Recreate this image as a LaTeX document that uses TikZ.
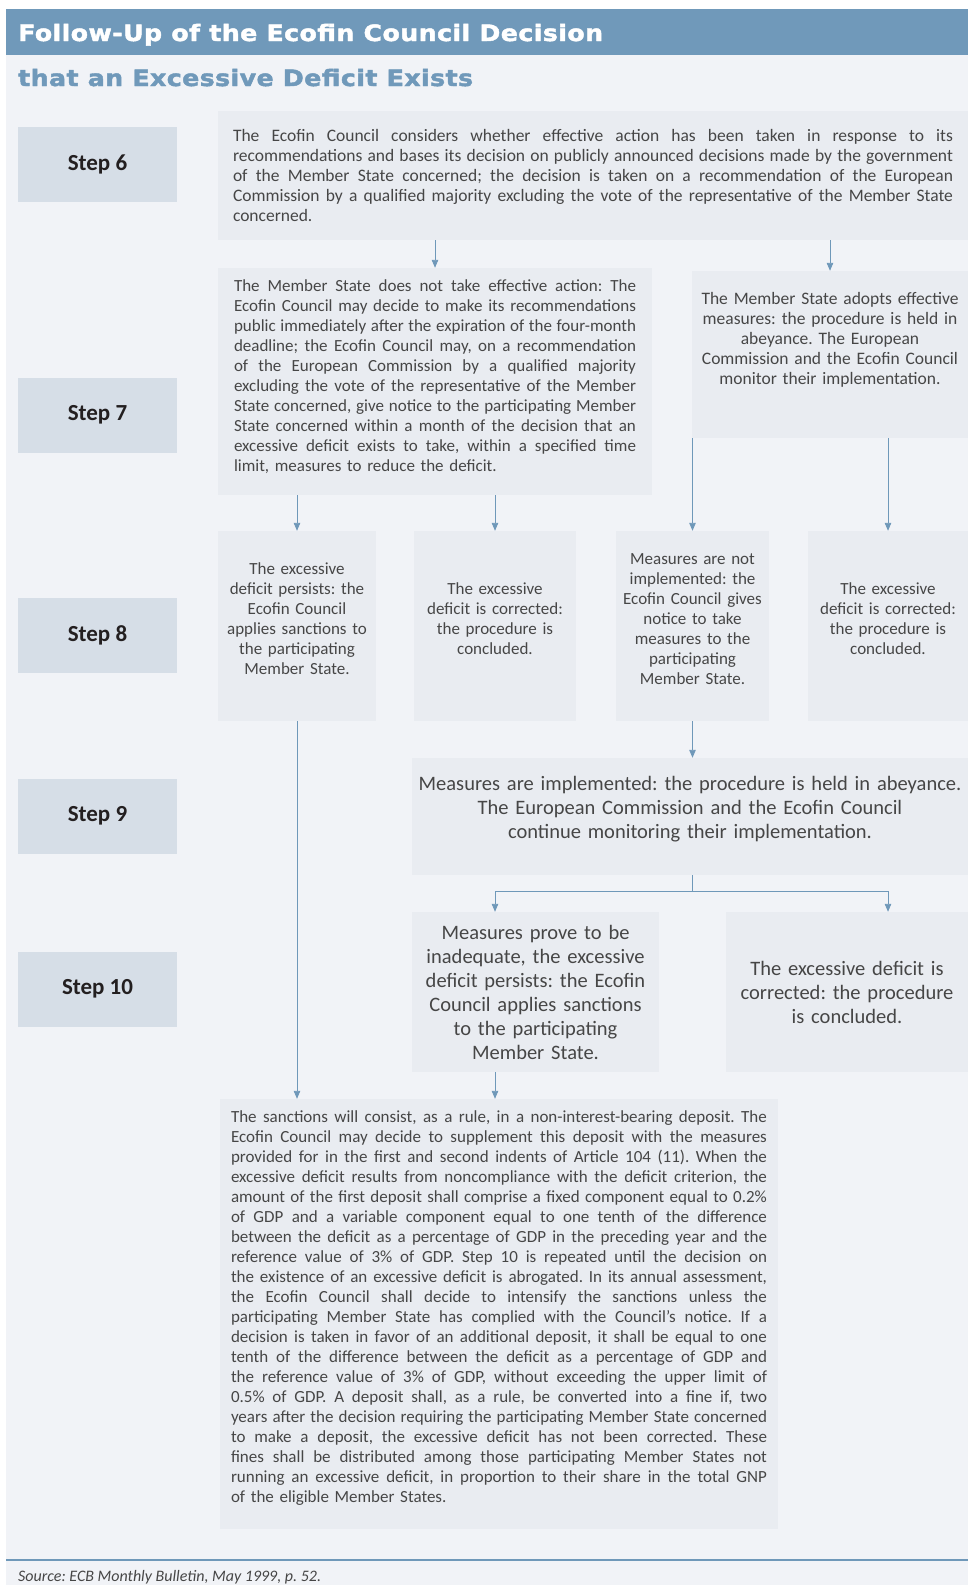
\documentclass[tikz,border=0pt]{standalone}
\usepackage{fontspec}
\setmainfont{Carlito}
\newfontfamily\fonttitolo[LetterSpace=2, FakeBold=2, FakeStretch=1.12]{DejaVu Sans}
\usetikzlibrary{arrows.meta}
\frenchspacing

\definecolor{bandablu}{HTML}{7099BA}
\definecolor{lineablu}{HTML}{6F98B9}
\definecolor{sfondo}{HTML}{F1F3F7}
\definecolor{boxfill}{HTML}{E9ECF1}
\definecolor{stepfill}{HTML}{D6DEE7}
\definecolor{testo}{HTML}{464646}
\definecolor{scuro}{HTML}{231F20}

% riga giustificata
\newcommand{\larghezza}{0pt}
\newcommand{\riga}[1]{\makebox[\larghezza][s]{\spaceskip=0pt\xspaceskip=0pt #1}}
% spinge il testo verso l'alto
\newcommand{\giu}[1]{\rule[-#1]{0pt}{#1}}

\begin{document}
\begin{tikzpicture}[x=1pt, y=-1pt,
    titolo/.style={anchor=base west, inner sep=0pt, font=\fonttitolo\bfseries\fontsize{22.5}{27}\selectfont},
    stepbox/.style={fill=stepfill, minimum width=159pt, minimum height=75pt, inner sep=0pt, text=scuro, font=\bfseries\fontsize{23}{27}\selectfont},
    box/.style={fill=boxfill, inner sep=0pt, text=testo, font=\fontsize{17}{20}\selectfont},
    giustifica/.style={text width=#1, align=left, execute at begin node={\def\larghezza{#1}}},
    boxmedio/.style={box, font=\fontsize{17}{20}\selectfont},
    boxgrande/.style={box, font=\fontsize{20.5}{24}\selectfont},
    linea/.style={draw=lineablu, line width=0.9pt},
    freccia/.style={linea, -{Triangle[length=8pt,width=6.5pt]}}]

    \useasboundingbox (0,0) rectangle (968,1585);

    % Sfondo e intestazione
    \fill[sfondo] (6,9) rectangle (968,1585);
    \fill[bandablu] (6,9) rectangle (968,55);
    \node[titolo, text=white] (titolo) at (18,41) {Follow-Up of the Ecofin Council Decision};
    \node[titolo, text=bandablu] (sottotitolo) at (18,86) {that an Excessive Deficit Exists};

    % Passi
    \foreach \n/\y in {6/164, 7/415, 8/635, 9/816, 10/989}
        \node[stepbox] (s\n) at (97.5,\y) {Step \n};

    % Step 6
    \node[box, font=\fontsize{17.5}{20}\selectfont, minimum width=750pt, minimum height=129pt, giustifica=720pt] (b6) at (593,175.5) {%
        \riga{The Ecofin Council considers whether effective action has been taken in response to its}\\
        \riga{recommendations and bases its decision on publicly announced decisions made by the government}\\
        \riga{of the Member State concerned; the decision is taken on a recommendation of the European}\\
        \riga{Commission by a qualified majority excluding the vote of the representative of the Member State}\\
        concerned.};

    % Step 7
    \node[box, minimum width=434pt, minimum height=227pt, giustifica=402pt] (b7l) at (435,381.5) {%
        \riga{The Member State does not take effective action: The}\\
        \riga{Ecofin Council may decide to make its recommendations}\\
        \riga{public immediately after the expiration of the four-month}\\
        \riga{deadline; the Ecofin Council may, on a recommendation}\\
        \riga{of the European Commission by a qualified majority}\\
        \riga{excluding the vote of the representative of the Member}\\
        \riga{State concerned, give notice to the participating Member}\\
        \riga{State concerned within a month of the decision that an}\\
        \riga{excessive deficit exists to take, within a specified time}\\
        limit, measures to reduce the deficit.\giu{11pt}};
    \node[box, font=\fontsize{17.5}{20}\selectfont, minimum width=276pt, minimum height=167pt, text width=266pt, align=center] (b7r) at (830,354.5) {%
        The Member State adopts effective\\
        measures: the procedure is held in\\
        abeyance. The European\\
        Commission and the Ecofin Council\\
        monitor their implementation.\giu{32pt}};

    % Step 8
    \node[boxmedio, minimum width=158pt, minimum height=190pt, text width=154pt, align=center] (b8a) at (297,626) {%
        The excessive\\ deficit persists: the\\ Ecofin Council\\ applies sanctions to\\ the participating\\ Member State.\giu{14pt}};
    \node[boxmedio, minimum width=162pt, minimum height=190pt, text width=158pt, align=center] (b8b) at (495,626) {%
        The excessive\\ deficit is corrected:\\ the procedure is\\ concluded.\giu{14pt}};
    \node[boxmedio, minimum width=153pt, minimum height=190pt, text width=151pt, align=center] (b8c) at (692.5,626) {%
        Measures are not\\ implemented: the\\ Ecofin Council gives\\ notice to take\\ measures to the\\ participating\\ Member State.\giu{14pt}};
    \node[boxmedio, minimum width=160pt, minimum height=190pt, text width=156pt, align=center] (b8d) at (888,626) {%
        The excessive\\ deficit is corrected:\\ the procedure is\\ concluded.\giu{14pt}};

    % Step 9
    \node[boxgrande, minimum width=556pt, minimum height=117pt, text width=554pt, align=center] (b9) at (690,816.5) {%
        Measures are implemented: the procedure is held in abeyance.\\
        The European Commission and the Ecofin Council\\
        continue monitoring their implementation.\giu{18pt}};

    % Step 10
    \node[boxgrande, minimum width=247pt, minimum height=160pt, text width=244pt, align=center] (b10l) at (535.5,992) {%
        Measures prove to be\\ inadequate, the excessive\\ deficit persists: the Ecofin\\ Council applies sanctions\\ to the participating\\ Member State.};
    \node[boxgrande, minimum width=242pt, minimum height=160pt, text width=240pt, align=center] (b10r) at (847,992) {%
        The excessive deficit is\\ corrected: the procedure\\ is concluded.};

    % Sanzioni
    \node[box, minimum width=558pt, minimum height=430pt, giustifica=536pt] (b11) at (499,1314) {%
        \riga{The sanctions will consist, as a rule, in a non-interest-bearing deposit. The}\\
        \riga{Ecofin Council may decide to supplement this deposit with the measures}\\
        \riga{provided for in the first and second indents of Article 104 (11). When the}\\
        \riga{excessive deficit results from noncompliance with the deficit criterion, the}\\
        \riga{amount of the first deposit shall comprise a fixed component equal to 0.2\%}\\
        \riga{of GDP and a variable component equal to one tenth of the difference}\\
        \riga{between the deficit as a percentage of GDP in the preceding year and the}\\
        \riga{reference value of 3\% of GDP. Step 10 is repeated until the decision on}\\
        \riga{the existence of an excessive deficit is abrogated. In its annual assessment,}\\
        \riga{the Ecofin Council shall decide to intensify the sanctions unless the}\\
        \riga{participating Member State has complied with the Council's notice. If a}\\
        \riga{decision is taken in favor of an additional deposit, it shall be equal to one}\\
        \riga{tenth of the difference between the deficit as a percentage of GDP and}\\
        \riga{the reference value of 3\% of GDP, without exceeding the upper limit of}\\
        \riga{0.5\% of GDP. A deposit shall, as a rule, be converted into a fine if, two}\\
        \riga{years after the decision requiring the participating Member State concerned}\\
        \riga{to make a deposit, the excessive deficit has not been corrected. These}\\
        \riga{fines shall be distributed among those participating Member States not}\\
        \riga{running an excessive deficit, in proportion to their share in the total GNP}\\
        of the eligible Member States.\giu{14pt}};

    % Frecce
    \draw[freccia] (b7l.north |- b6.south) -- (b7l.north);
    \draw[freccia] (b7r.north |- b6.south) -- (b7r.north);
    \draw[freccia] (b8a.north |- b7l.south) -- (b8a.north);
    \draw[freccia] (b8b.north |- b7l.south) -- (b8b.north);
    \draw[freccia] (b8c.north |- b7r.south) -- (b8c.north);
    \draw[freccia] (b8d.north |- b7r.south) -- (b8d.north);
    \draw[freccia] (b8c.south) -- (b8c.south |- b9.north);
    \draw[freccia] (b8a.south) -- (b8a.south |- b11.north);

    % Biforcazione sotto lo step 9
    \coordinate (bivio) at ([yshift=-16pt]b8c.south |- b9.south);
    \draw[linea] (b8c.south |- b9.south) -- (bivio);
    \draw[freccia] (bivio) -| (b8b.south |- b10l.north);
    \draw[freccia] (bivio) -| (b8d.south |- b10r.north);
    \draw[freccia] (b8b.south |- b10l.south) -- (b8b.south |- b11.north);

    % Fonte
    \draw[lineablu, line width=1.2pt] (6,1560) -- (968,1560);
    \node[anchor=base west, inner sep=0pt, text=testo, font=\itshape\fontsize{16}{19}\selectfont] (fonte) at (18,1581) {Source: ECB Monthly Bulletin, May 1999, p. 52.};

\end{tikzpicture}
\end{document}
